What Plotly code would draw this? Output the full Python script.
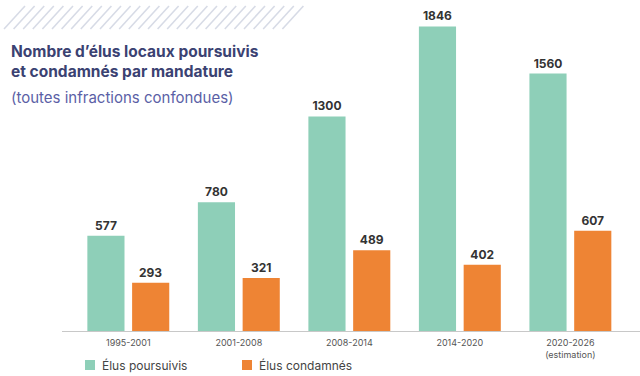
import plotly.graph_objects as go

categories = ["1995-2001", "2001-2008", "2008-2014", "2014-2020", "2020-2026<br>(estimation)"]
poursuivis = [577, 780, 1300, 1846, 1560]
condamnes = [293, 321, 489, 402, 607]
series_names = ["Élus poursuivis", "Élus condamnés"]

GREEN = "#8ecfb8"
ORANGE = "#ee8434"

W, H = 640, 376
L, R, T, B = 62, 0, 0, 45
PW, PH = W - L - R, H - T - B

def px(x):
    return (x - L) / PW

def py(y):
    return (H - B - y) / PH

fig = go.Figure()
for name, vals, col in [(series_names[0], poursuivis, GREEN), (series_names[1], condamnes, ORANGE)]:
    fig.add_trace(go.Bar(
        x=categories, y=vals, name=name, marker_color=col, marker_line_width=0,
        text=[str(v) for v in vals], textposition="outside", cliponaxis=False,
        textfont=dict(family="Inter", size=12, color="#333333", weight="bold"),
    ))

shapes = []
annotations = []
# decorative hatch stripes
x0 = 4
while x0 < 290:
    shapes.append(dict(type="line", xref="paper", yref="paper",
                       x0=px(x0), y0=py(29), x1=px(x0 + 21), y1=py(6),
                       line=dict(color="#d7dbe6", width=1.6)))
    x0 += 9.6

# manual legend
for name, col, lx in [(series_names[0], GREEN, 85), (series_names[1], ORANGE, 242)]:
    shapes.append(dict(type="rect", xref="paper", yref="paper",
                       x0=px(lx), x1=px(lx + 10), y0=py(370), y1=py(360),
                       fillcolor=col, line=dict(width=0)))
    annotations.append(dict(text=name, xref="paper", yref="paper",
                            x=px(lx + 15), y=py(365), xanchor="left", yanchor="middle",
                            showarrow=False,
                            font=dict(family="Inter", size=12, color="#444444")))

annotations += [
    dict(text="<b>Nombre d’élus locaux poursuivis<br>et condamnés par mandature</b>",
         xref="paper", yref="paper", x=px(9), y=py(40), xanchor="left", yanchor="top",
         align="left", showarrow=False,
         font=dict(family="Inter", size=15.5, color="#3b4272")),
    dict(text="(toutes infractions confondues)",
         xref="paper", yref="paper", x=px(9), y=py(86), xanchor="left", yanchor="top",
         align="left", showarrow=False,
         font=dict(family="Inter", size=15, color="#5b5fa6")),
]

fig.update_layout(
    width=W, height=H,
    margin=dict(l=L, r=R, t=T, b=B, autoexpand=False),
    paper_bgcolor="white", plot_bgcolor="white",
    barmode="group", bargap=0.19, bargroupgap=0.17,
    shapes=shapes,
    showlegend=False,
    xaxis=dict(range=[-0.6, 4.63], showline=True, linecolor="#c8c8c8", linewidth=1,
               showgrid=False, ticks="", ticklabelstandoff=3, automargin=False,
               tickfont=dict(family="Inter", size=9, color="#555555")),
    yaxis=dict(range=[0, 2006], visible=False, showgrid=False),
    annotations=annotations,
)

fig.write_html("out.html")
